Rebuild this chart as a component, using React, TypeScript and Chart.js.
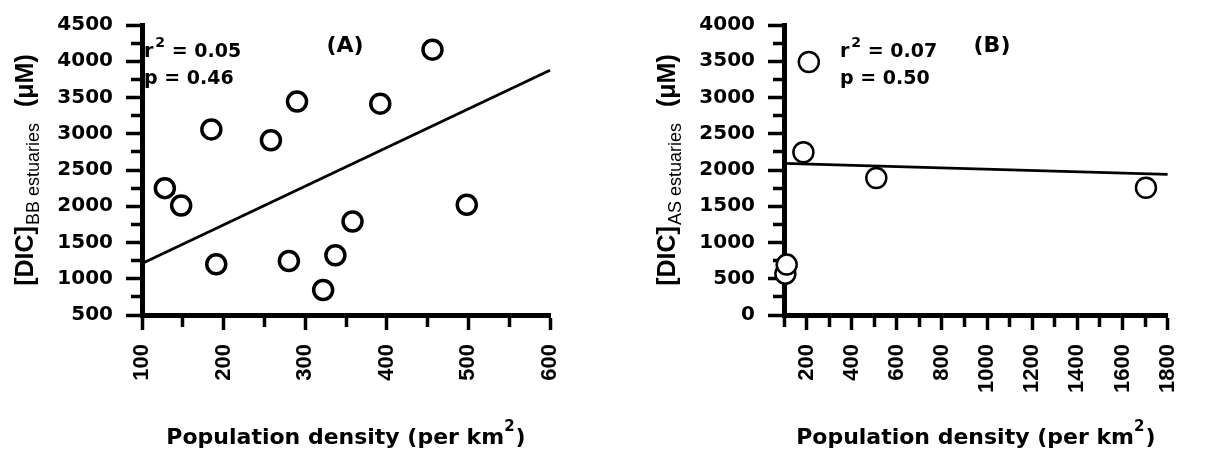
import React, { useEffect, useRef } from 'react';
import { Chart, registerables } from 'chart.js';

Chart.register(...registerables);

// ---- Panel A: BB estuaries ----
const A_POP = [128, 148, 185, 191, 258, 280, 290, 322, 337, 358, 392, 456, 498];
const A_DIC = [2250, 2010, 3060, 1200, 2910, 1245, 3445, 845, 1325, 1790, 3415, 4160, 2020];
const A_FIT_POP = [100, 600];
const A_FIT_DIC = [1210, 3875];
const A_STATS = ['0.05', '0.46'];

// ---- Panel B: AS estuaries ----
const B_POP = [106, 112, 186, 210, 509, 1704];
const B_DIC = [570, 695, 2245, 3490, 1890, 1755];
const B_FIT_POP = [100, 1800];
const B_FIT_DIC = [2090, 1940];
const B_STATS = ['0.07', '0.50'];

const X_TITLE = 'Population density (per km';
const W = 604;
const H = 453;

type PanelCfg = {
  pop: number[];
  dic: number[];
  fitPop: number[];
  fitDic: number[];
  stats: string[];
  sub: string;
  label: string;
  xMin: number;
  xMax: number;
  xStep: number;
  xLabelStep: number;
  yMin: number;
  yMax: number;
  yStep: number;
  yLabelStep: number;
  yAxisWidth: number;
  padRight: number;
  statsX: number;
  labelX: number;
  pointRadius: number;
  pointBorder: number;
};

const PANEL_A: PanelCfg = {
  pop: A_POP, dic: A_DIC, fitPop: A_FIT_POP, fitDic: A_FIT_DIC, stats: A_STATS,
  sub: 'BB', label: '(A)',
  xMin: 100, xMax: 600, xStep: 50, xLabelStep: 100,
  yMin: 500, yMax: 4500, yStep: 250, yLabelStep: 500,
  yAxisWidth: 142, padRight: 54, statsX: 144, labelX: 345,
  pointRadius: 9.5, pointBorder: 3.5,
};

const PANEL_B: PanelCfg = {
  pop: B_POP, dic: B_DIC, fitPop: B_FIT_POP, fitDic: B_FIT_DIC, stats: B_STATS,
  sub: 'AS', label: '(B)',
  xMin: 100, xMax: 1800, xStep: 100, xLabelStep: 200,
  yMin: 0, yMax: 4000, yStep: 250, yLabelStep: 500,
  yAxisWidth: 180, padRight: 15, statsX: 236, labelX: 388,
  pointRadius: 10, pointBorder: 2.5,
};

function textPlugin(cfg: PanelCfg) {
  return {
    id: 'panelTexts',
    afterDraw(chart: any) {
      const ctx = chart.ctx as CanvasRenderingContext2D;
      const area = chart.chartArea;
      ctx.save();
      ctx.fillStyle = '#000';
      ctx.textAlign = 'left';
      ctx.textBaseline = 'alphabetic';

      // Y axis title (rotated, with subscript)
      ctx.save();
      ctx.translate(area.left - 109, (area.top + area.bottom) / 2);
      ctx.rotate(-Math.PI / 2);
      const fMain = 'bold 25px "Liberation Sans"';
      const fSub = '18px "Liberation Sans"';
      ctx.font = fMain;
      const w1 = ctx.measureText('[DIC]').width;
      const w3 = ctx.measureText('(\u03BCM)').width;
      ctx.font = fSub;
      const subText = cfg.sub + ' estuaries';
      const w2 = ctx.measureText(subText).width;
      const gap1 = 1;
      const gap2 = 16;
      let x = -(w1 + gap1 + w2 + gap2 + w3) / 2;
      ctx.font = fMain;
      ctx.fillText('[DIC]', x, 0);
      x += w1 + gap1;
      ctx.font = fSub;
      ctx.fillText(subText, x, 6);
      x += w2 + gap2;
      ctx.font = fMain;
      ctx.fillText('(\u03BCM)', x, 0);
      ctx.restore();

      // X axis title with superscript
      const fx = 'bold 22px "DejaVu Sans"';
      const fsup = 'bold 15px "DejaVu Sans"';
      ctx.font = fx;
      const t1 = ctx.measureText(X_TITLE).width;
      const t3 = ctx.measureText(')').width;
      ctx.font = fsup;
      const t2 = ctx.measureText('2').width;
      const cx = (area.left + area.right) / 2;
      let tx = cx - (t1 + t2 + 1 + t3) / 2;
      const by = 444;
      ctx.font = fx;
      ctx.fillText(X_TITLE, tx, by);
      tx += t1;
      ctx.font = fsup;
      ctx.fillText('2', tx, by - 13);
      tx += t2 + 1;
      ctx.font = fx;
      ctx.fillText(')', tx, by);

      // Stats
      const fs = 'bold 19px "DejaVu Sans"';
      const fss = 'bold 14px "DejaVu Sans"';
      ctx.font = fs;
      const rw = ctx.measureText('r').width;
      ctx.fillText('r', cfg.statsX, 56.5);
      ctx.font = fss;
      const sw = ctx.measureText('2').width;
      ctx.fillText('2', cfg.statsX + rw + 2, 46.5);
      ctx.font = fs;
      ctx.fillText(' = ' + cfg.stats[0], cfg.statsX + rw + 2 + sw, 56.5);
      ctx.fillText('p = ' + cfg.stats[1], cfg.statsX, 83.5);

      // Panel label
      ctx.font = 'bold 22px "DejaVu Sans"';
      ctx.textAlign = 'center';
      ctx.fillText(cfg.label, cfg.labelX, 51.5);
      ctx.restore();
    },
  };
}

function Panel({ cfg, left }: { cfg: PanelCfg; left: number }) {
  const ref = useRef<HTMLCanvasElement | null>(null);
  useEffect(() => {
    if (!ref.current) return;
    const points = cfg.pop.map((p, i) => ({ x: p, y: cfg.dic[i] }));
    const fit = cfg.fitPop.map((p, i) => ({ x: p, y: cfg.fitDic[i] }));
    const chart = new Chart(ref.current, {
      type: 'scatter',
      data: {
        datasets: [
          {
            data: points,
            pointStyle: 'circle',
            pointRadius: cfg.pointRadius,
            pointBorderWidth: cfg.pointBorder,
            pointBackgroundColor: '#fff',
            pointBorderColor: '#000',
            showLine: false,
            clip: false,
          } as any,
          {
            data: fit,
            showLine: true,
            borderColor: '#000',
            borderWidth: 2.8,
            pointRadius: 0,
            fill: false,
            clip: false,
          } as any,
        ],
      },
      options: {
        animation: false,
        responsive: false,
        devicePixelRatio: 1,
        events: [],
        layout: { padding: { left: 0, top: 22, right: cfg.padRight, bottom: 0 } },
        plugins: { legend: { display: false }, tooltip: { enabled: false }, title: { display: false } },
        scales: {
          x: {
            type: 'linear',
            min: cfg.xMin,
            max: cfg.xMax,
            afterFit: (s: any) => { s.height = H - 315; },
            border: { display: true, color: '#000', width: 5 },
            grid: {
              display: true,
              drawOnChartArea: false,
              drawTicks: true,
              tickLength: 15,
              tickWidth: 3.5,
              tickColor: '#000',
              tickBorderDash: (c: any) =>
                c.tick && Math.round(c.tick.value) % cfg.xLabelStep !== 0 ? [9, 100] : [],
            } as any,
            ticks: {
              stepSize: cfg.xStep,
              autoSkip: false,
              maxRotation: 90,
              minRotation: 90,
              padding: 14,
              color: '#000',
              font: { family: '"Liberation Sans"', size: 22, weight: 'bold' },
              callback: (v: any) => (Math.round(Number(v)) % cfg.xLabelStep === 0 ? String(v) : ''),
            },
          },
          y: {
            type: 'linear',
            min: cfg.yMin,
            max: cfg.yMax,
            afterFit: (s: any) => { s.width = cfg.yAxisWidth; },
            border: { display: true, color: '#000', width: 5 },
            grid: {
              display: true,
              drawOnChartArea: false,
              drawTicks: true,
              tickLength: 16,
              tickWidth: 3.5,
              tickColor: '#000',
              tickBorderDash: (c: any) =>
                c.tick && Math.round(c.tick.value) % cfg.yLabelStep !== 0 ? [0, 5, 100] : [],
            } as any,
            ticks: {
              stepSize: cfg.yStep,
              autoSkip: false,
              padding: 13,
              color: '#000',
              font: { family: '"DejaVu Sans"', size: 20, weight: 'bold' },
              callback: (v: any) => (Math.round(Number(v)) % cfg.yLabelStep === 0 ? String(v) : ''),
            },
          },
        },
      },
      plugins: [textPlugin(cfg)],
    } as any);
    return () => chart.destroy();
  }, [cfg]);
  return (
    <canvas
      ref={ref}
      width={W}
      height={H}
      style={{ position: 'absolute', left, top: 0, width: W, height: H }}
    />
  );
}

export default function App() {
  return (
    <div style={{ position: 'absolute', left: 0, top: 0, width: 1208, height: 453, background: '#fff' }}>
      <Panel cfg={PANEL_A} left={0} />
      <Panel cfg={PANEL_B} left={604} />
    </div>
  );
}
